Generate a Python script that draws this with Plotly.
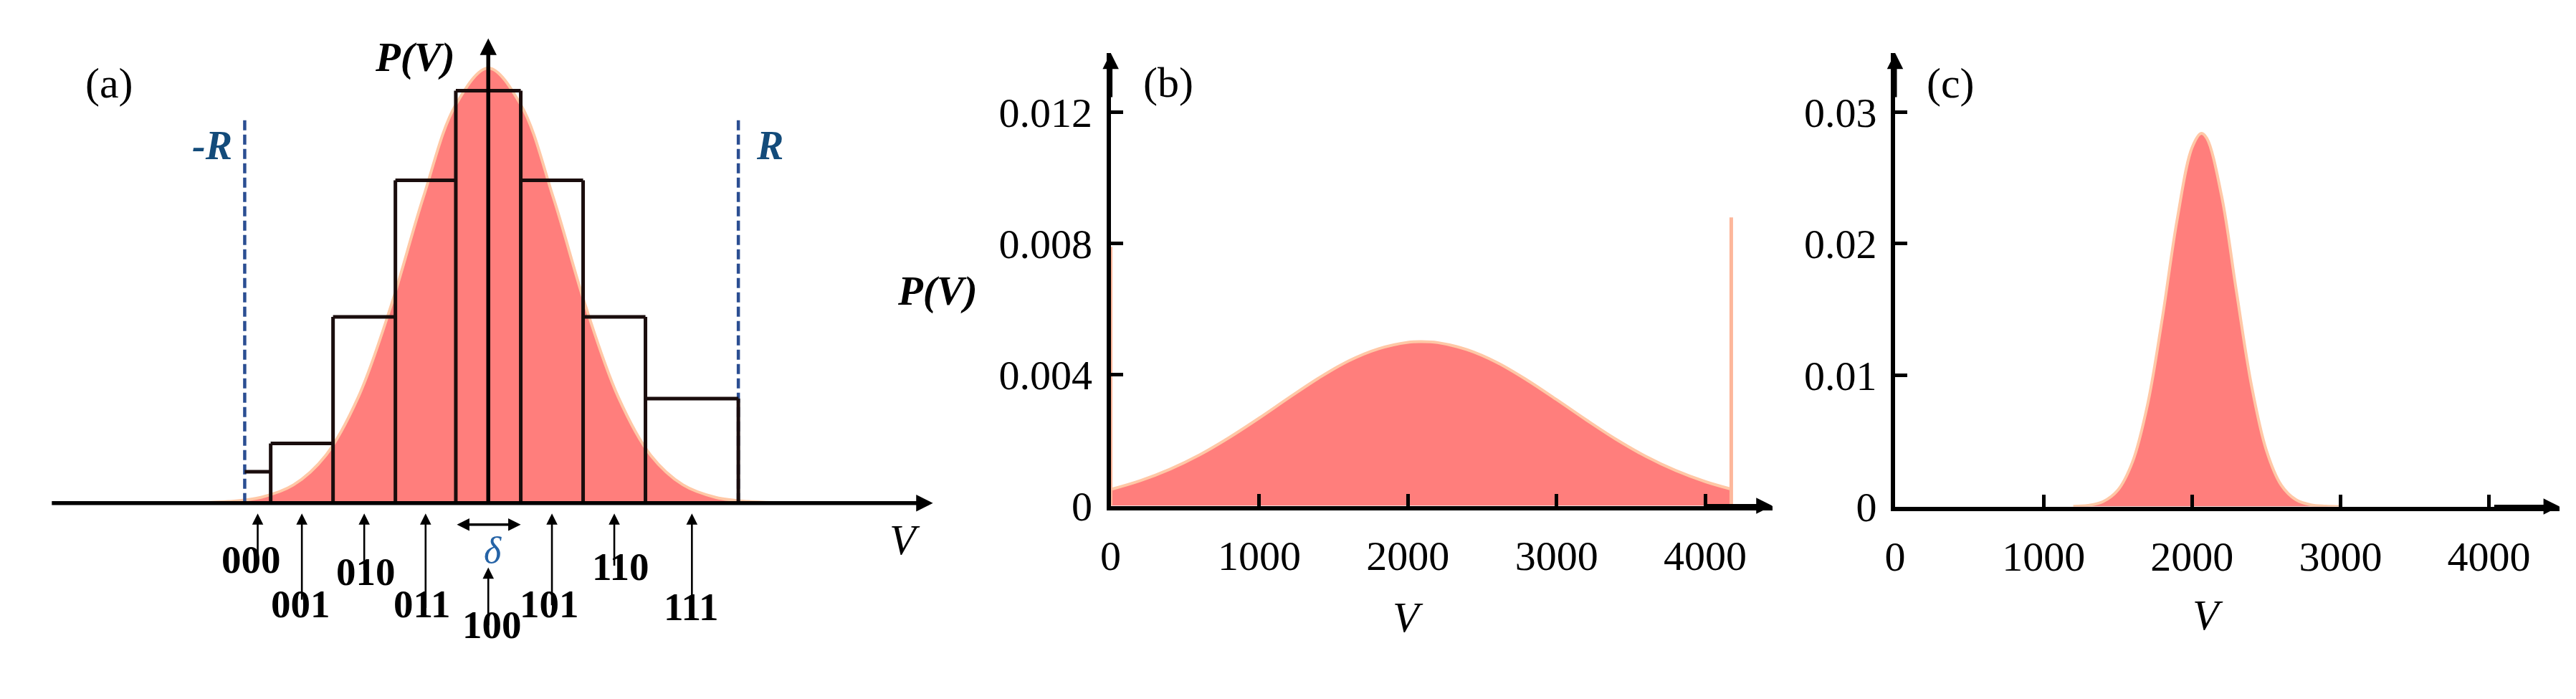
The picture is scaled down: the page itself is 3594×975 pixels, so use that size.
import plotly.graph_objects as go

W, H = 3594, 975
SERIF = "Liberation Serif, Times New Roman, serif"
FILL = "#FF7E7C"
EDGE = "#FFC8A6"
BLUE_LINE = "#2B4E92"
BLUE_TXT = "#134B7A"

# ---------------- data ----------------
# (a) schematic: V in units of the quantisation step delta, P normalised to peak
bin_codes = ["000", "001", "010", "011", "100", "101", "110", "111"]
bin_edges = [-3.75, -3.35, -2.39, -1.43, -0.50, 0.50, 1.46, 2.42, 3.85]
bin_heights = [0.072, 0.137, 0.428, 0.742, 0.948, 0.742, 0.428, 0.240]
a_gauss_v = [-5.0, -4.5, -4.0, -3.5, -3.0, -2.5, -2.0, -1.5, -1.0, -0.5, 0.0,
             0.5, 1.0, 1.5, 2.0, 2.5, 3.0, 3.5, 4.0, 4.5, 5.0]
a_gauss_p = [0.0001, 0.0008, 0.0035, 0.0132, 0.0417, 0.110, 0.244, 0.452, 0.703, 0.916, 1.0,
             0.916, 0.703, 0.452, 0.244, 0.110, 0.0417, 0.0132, 0.0035, 0.0008, 0.0001]

# (b) clipped wide distribution
b_v = [0, 200, 400, 600, 800, 1000, 1200, 1400, 1600, 1800, 2000, 2090, 2200,
       2400, 2600, 2800, 3000, 3200, 3400, 3600, 3800, 4000, 4175]
b_p = [0.00050, 0.00077, 0.00112, 0.00156, 0.00209, 0.00268, 0.00330, 0.00390,
       0.00442, 0.00479, 0.00499, 0.00501, 0.00498, 0.00476, 0.00437, 0.00384,
       0.00324, 0.00262, 0.00203, 0.00151, 0.00108, 0.00074, 0.00051]
b_spike_v = [0, 4175]
b_spike_p = [0.0079, 0.0088]
b_xticks = [0, 1000, 2000, 3000, 4000]
b_yticks = [0, 0.004, 0.008, 0.012]
b_yticktext = ["0", "0.004", "0.008", "0.012"]

# (c) narrow distribution
c_v = [1200, 1300, 1400, 1500, 1600, 1700, 1800, 1900, 2000, 2063, 2100, 2200,
       2300, 2400, 2500, 2600, 2700, 2800, 2900, 3000]
c_p = [0.00002, 0.00009, 0.00037, 0.00124, 0.00342, 0.00773, 0.01434, 0.02185,
       0.02731, 0.0284, 0.02802, 0.0236, 0.01631, 0.00925, 0.00431, 0.00165,
       0.00052, 0.00013, 0.00003, 0.0]
c_xticks = [0, 1000, 2000, 3000, 4000]
c_yticks = [0, 0.01, 0.02, 0.03]
c_yticktext = ["0", "0.01", "0.02", "0.03"]

# ---------------- layout helpers ----------------
def pxx(x):
    return x / W

def pxy(y):
    return 1 - y / H

# panel (a) pixel geometry
A_X0, A_DX = 661.0, 91.0      # pixel of V=0, pixels per delta
A_Y0, A_DY = 718.0, 628.0     # pixel of P=0, pixels per unit P
A_RIGHT = 1300.0

def ax_(xp):
    return (xp - A_X0) / A_DX

def ay_(yp):
    return (A_Y0 - yp) / A_DY

fig = go.Figure()

# ---- (a) gaussian
fig.add_trace(go.Scatter(x=a_gauss_v, y=a_gauss_p, mode="lines", line=dict(color=EDGE, width=4, shape="spline"),
                         fill="tozeroy", fillcolor=FILL, xaxis="x", yaxis="y", hoverinfo="skip"))

# ---- (a) dashed R lines
R_top = ay_(163)
fig.add_trace(go.Scatter(x=[bin_edges[0], bin_edges[0], None, bin_edges[-1], bin_edges[-1]],
                         y=[0, R_top, None, 0, R_top], mode="lines",
                         line=dict(color=BLUE_LINE, width=4.5, dash="14px,6px"),
                         xaxis="x", yaxis="y", hoverinfo="skip"))

# ---- (a) histogram boxes
hx, hy = [], []
n = len(bin_heights)
for i in range(n):
    hx += [bin_edges[i], bin_edges[i + 1], None]
    hy += [bin_heights[i], bin_heights[i], None]
for j in range(1, n + 1):
    left = bin_heights[j - 1]
    right = bin_heights[j] if j < n else 0
    hx += [bin_edges[j], bin_edges[j], None]
    hy += [0, max(left, right), None]
fig.add_trace(go.Scatter(x=hx, y=hy, mode="lines", line=dict(color="#1a0d0d", width=5),
                         xaxis="x", yaxis="y", hoverinfo="skip"))

# ---- (b)
fig.add_trace(go.Scatter(x=b_v, y=b_p, mode="lines", line=dict(color=EDGE, width=4, shape="spline"),
                         fill="tozeroy", fillcolor=FILL, xaxis="x2", yaxis="y2", hoverinfo="skip"))
sx, sy = [], []
for v, p in zip(b_spike_v, b_spike_p):
    sx += [v, v, None]
    sy += [0, p, None]
fig.add_trace(go.Scatter(x=sx, y=sy, mode="lines", line=dict(color="#FDB79B", width=5),
                         xaxis="x2", yaxis="y2", hoverinfo="skip"))

# ---- (c)
fig.add_trace(go.Scatter(x=c_v, y=c_p, mode="lines", line=dict(color=EDGE, width=4, shape="spline"),
                         fill="tozeroy", fillcolor=FILL, xaxis="x3", yaxis="y3", hoverinfo="skip"))

# ---------------- axes ----------------
B_L, B_R, B_B, B_T = 1533.0, 2460.0, 722.0, 68.0
C_L, C_R, C_B, C_T = 2632.0, 3563.0, 723.0, 68.0
B_PX_PER_V = 208.25 / 1000
B_PX_PER_P = 189.3 / 0.004
C_PX_PER_V = 208.0 / 1000
C_PX_PER_P = 189.7 / 0.01

tickfont = dict(family=SERIF, size=58, color="black")
common = dict(showgrid=False, zeroline=False, showline=True, linecolor="black", linewidth=6,
              ticks="inside", ticklen=17, tickwidth=5, tickcolor="black", tickfont=tickfont)

fig.update_layout(
    width=W, height=H, margin=dict(l=0, r=0, t=0, b=0),
    paper_bgcolor="white", plot_bgcolor="rgba(0,0,0,0)", showlegend=False,
    xaxis=dict(domain=[0, pxx(A_RIGHT)], range=[ax_(0), ax_(A_RIGHT)], visible=False),
    yaxis=dict(domain=[0, 1], range=[ay_(H), ay_(0)], visible=False),
    xaxis2=dict(domain=[pxx(B_L), pxx(B_R)], range=[0, (B_R - B_L) / B_PX_PER_V], anchor="y2",
                tickvals=b_xticks, ticklabelstandoff=14, **common),
    yaxis2=dict(domain=[pxy(B_B), pxy(B_T)], range=[0, (B_B - B_T) / B_PX_PER_P], anchor="x2",
                tickvals=b_yticks, ticktext=b_yticktext, ticklabelstandoff=8, **common),
    xaxis3=dict(domain=[pxx(C_L), pxx(C_R)], range=[0, (C_R - C_L) / C_PX_PER_V], anchor="y3",
                tickvals=c_xticks, ticklabelstandoff=14, **common),
    yaxis3=dict(domain=[pxy(C_B), pxy(C_T)], range=[0, (C_B - C_T) / C_PX_PER_P], anchor="x3",
                tickvals=c_yticks, ticktext=c_yticktext, ticklabelstandoff=8, **common),
)

ann = []

def arrow(x, y, axx, ayy, xr, yr, width, size=1.0, head=2, side="end", color="black"):
    ann.append(dict(x=x, y=y, ax=axx, ay=ayy, xref=xr, yref=yr, axref=xr, ayref=yr, text="",
                    showarrow=True, arrowhead=head, startarrowhead=head, arrowsize=size,
                    startarrowsize=size, arrowwidth=width, arrowcolor=color, arrowside=side,
                    standoff=0, startstandoff=0))

def text(x, y, s, size, xr="paper", yr="paper", color="black", xshift=0):
    ann.append(dict(x=x, y=y, xref=xr, yref=yr, text=s, showarrow=False, xanchor="center",
                    yanchor="middle", xshift=xshift, font=dict(family=SERIF, size=size, color=color)))

# (a) axes
arrow(ax_(1284), 0, ax_(48), 0, "x", "y", 5.5, 0.85)
arrow(0, ay_(47), 0, 0, "x", "y", 5.5, 0.85)

# (a) bin arrows and labels
tip_px = [733, 733, 733, 733, 811, 733, 733, 733]
tail_px = [801, 859, 816, 871, 896, 867, 810, 864]
lab_px = [833, 897, 851, 897, 927, 897, 844, 901]
lab_dx = [-9, -2, 2, -5, 5, -4, 8, -1]
for i, code in enumerate(bin_codes):
    c = 0.5 * (bin_edges[i] + bin_edges[i + 1])
    arrow(c, ay_(tip_px[i]), c, ay_(tail_px[i]), "x", "y", 2.6, 1.2)
    ann.append(dict(x=c, y=pxy(lab_px[i]), xref="x", yref="paper", text="<b>%s</b>" % code,
                    showarrow=False, xshift=lab_dx[i],
                    font=dict(family=SERIF, size=55, color="black")))

# delta double arrow
arrow(bin_edges[5], ay_(749), bin_edges[4], ay_(749), "x", "y", 3.5, 1.0, side="end+start")
text(pxx(667), pxy(786), "<i>δ</i>", 52, color="#2563A6")

text(pxx(130), pxy(112), "(a)", 60)
text(pxx(558), pxy(75), "<b><i>P(V)</i></b>", 57)
text(pxx(274), pxy(202), "<b><i>-R</i></b>", 56, color=BLUE_TXT)
text(pxx(1055), pxy(202), "<b><i>R</i></b>", 56, color=BLUE_TXT)
text(pxx(1245), pxy(771), "<i>V</i>", 60)

# (b) axes arrows and labels
b_xmax = (B_R - B_L) / B_PX_PER_V
b_ymax = (B_B - B_T) / B_PX_PER_P
arrow(b_xmax, 0, b_xmax * 0.9, 0, "x2", "y2", 5, 0.9)
arrow(0, b_ymax, 0, b_ymax * 0.9, "x2", "y2", 5, 0.9)
text(pxx(1614), pxy(111), "(b)", 60)
text(pxx(1290), pxy(412), "<b><i>P(V)</i></b>", 57)
text(pxx(1950), pxy(883), "<i>V</i>", 60)

# (c)
c_xmax = (C_R - C_L) / C_PX_PER_V
c_ymax = (C_B - C_T) / C_PX_PER_P
arrow(c_xmax, 0, c_xmax * 0.9, 0, "x3", "y3", 5, 0.9)
arrow(0, c_ymax, 0, c_ymax * 0.9, "x3", "y3", 5, 0.9)
text(pxx(2710), pxy(112), "(c)", 60)
text(pxx(3070), pxy(880), "<i>V</i>", 60)

fig.update_layout(annotations=ann)
fig.write_html("out.html")
